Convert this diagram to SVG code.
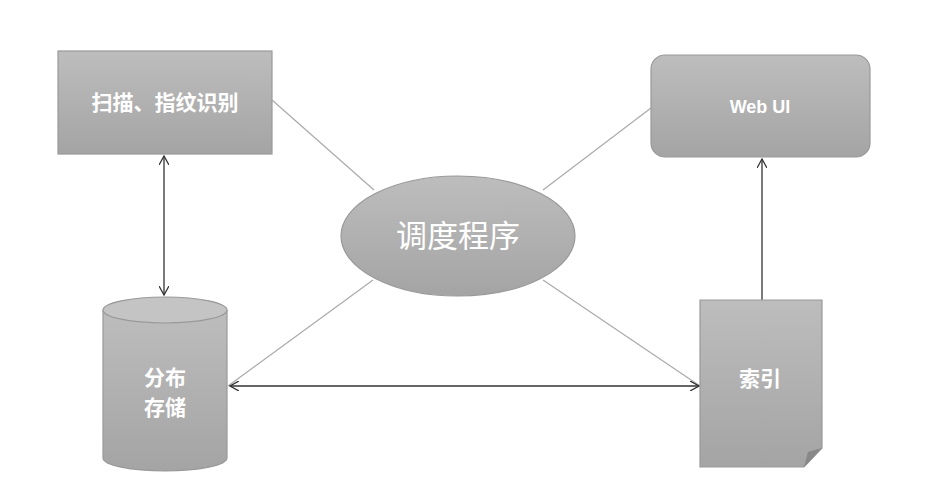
<svg xmlns="http://www.w3.org/2000/svg" width="934" height="498" viewBox="0 0 934 498">
<style>
.n{stroke:#999;stroke-width:1.2}
.t{font-family:"Noto Sans CJK SC","Liberation Sans",sans-serif;fill:#fff;text-anchor:middle;font-weight:bold}
.c{stroke:#aaa;stroke-width:1.2;fill:none}
.a{stroke:#333;stroke-width:1.3;fill:none}
</style>
<defs>
<linearGradient id="g" x1="0" y1="0" x2="0" y2="1"><stop offset="0" stop-color="#bdbdbd"/><stop offset="1" stop-color="#a4a4a4"/></linearGradient>
<marker id="m" viewBox="0 0 10 10" refX="9" refY="5" markerWidth="10" markerHeight="10" orient="auto-start-reverse" markerUnits="userSpaceOnUse"><path d="M0,0 L9,5 L0,10" fill="none" stroke="#333" stroke-width="1.3"/></marker>
</defs>
<rect width="934" height="498" fill="#fff"/>
<g id="connectors">
<line class="c" x1="272" y1="100" x2="374" y2="190"/>
<line class="c" x1="651" y1="108" x2="543" y2="190"/>
<line class="c" x1="373" y1="280" x2="228" y2="386"/>
<line class="c" x1="543" y1="280" x2="700" y2="386"/>
<line class="a" x1="230" y1="386" x2="699" y2="386" marker-start="url(#m)" marker-end="url(#m)"/>
<line class="a" x1="164" y1="156" x2="164" y2="295" marker-start="url(#m)" marker-end="url(#m)"/>
<line class="a" x1="762" y1="300" x2="762" y2="159" marker-end="url(#m)"/>
</g>
<g id="scan"><rect class="n" x="58" y="51" width="214" height="103" fill="url(#g)"/><text class="t" x="165" y="110" font-size="21">扫描、指纹识别</text></g>
<g id="webui"><rect class="n" x="651" y="55" width="219" height="102" rx="14" fill="url(#g)"/><text class="t" x="760" y="113" font-size="18" style="font-family:'Liberation Sans',sans-serif">Web UI</text></g>
<g id="scheduler"><ellipse class="n" cx="458" cy="236" rx="117" ry="60" fill="url(#g)"/><text class="t" x="458" y="247" font-size="31" style="font-weight:normal">调度程序</text></g>
<g id="storage"><path class="n" d="M103,310 L103,458 A62,13 0 0 0 227,458 L227,310" fill="url(#g)"/><ellipse class="n" cx="165" cy="310" rx="62" ry="13" fill="#c4c4c4"/><text class="t" x="165" y="385" font-size="21">分布</text><text class="t" x="165" y="415" font-size="21">存储</text></g>
<g id="index"><path class="n" d="M700,300 L822,300 L822,448 L804,467 L700,467 Z" fill="url(#g)"/><path d="M822,448 L804,467 L808,452 Z" fill="#888"/><text class="t" x="760" y="386" font-size="21">索引</text></g>
</svg>
